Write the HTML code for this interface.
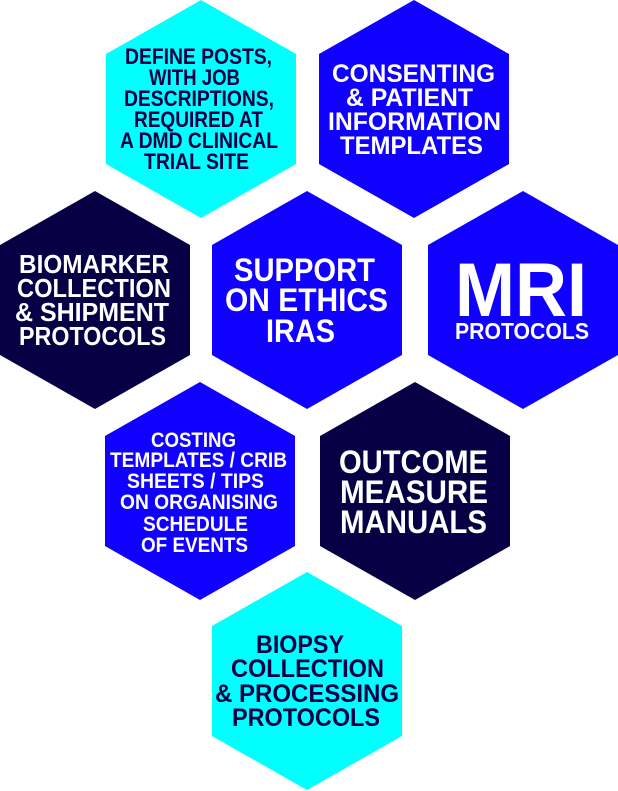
<!DOCTYPE html>
<html><head><meta charset="utf-8"><style>
html,body{margin:0;padding:0;background:#fff;}
svg{display:block;}
text{font-family:"Liberation Sans Narrow","Liberation Sans",sans-serif;font-weight:bold;}
</style></head><body>
<svg width="618" height="791" viewBox="0 0 618 791" xmlns="http://www.w3.org/2000/svg">
<defs>
<polygon id="hx" points="0,0 95,54 95,164 0,218 -95,164 -95,54"/>
</defs>
<use href="#hx" x="201" y="0" fill="#00ffff"/>
<use href="#hx" x="414" y="0" fill="#1000ff"/>
<use href="#hx" x="95" y="191" fill="#070044"/>
<use href="#hx" x="307" y="191" fill="#1000ff"/>
<use href="#hx" x="523" y="191" fill="#1000ff"/>
<use href="#hx" x="200" y="382" fill="#1000ff"/>
<use href="#hx" x="415" y="382" fill="#070044"/>
<use href="#hx" x="307" y="572" fill="#00ffff"/>

<g fill="#070044" font-size="22">
<text x="125" y="64" textLength="147" lengthAdjust="spacingAndGlyphs">DEFINE POSTS,</text>
<text x="149" y="85" textLength="91" lengthAdjust="spacingAndGlyphs">WITH JOB</text>
<text x="124" y="106" textLength="150" lengthAdjust="spacingAndGlyphs">DESCRIPTIONS,</text>
<text x="134" y="127" textLength="129" lengthAdjust="spacingAndGlyphs">REQUIRED AT</text>
<text x="120" y="148" textLength="158" lengthAdjust="spacingAndGlyphs">A DMD CLINICAL</text>
<text x="144" y="169" textLength="105" lengthAdjust="spacingAndGlyphs">TRIAL SITE</text>
</g>
<g fill="#fff" font-size="25">
<text x="332" y="82" textLength="163" lengthAdjust="spacingAndGlyphs">CONSENTING</text>
<text x="346" y="106" textLength="127" lengthAdjust="spacingAndGlyphs">&amp; PATIENT</text>
<text x="328" y="130" textLength="173" lengthAdjust="spacingAndGlyphs">INFORMATION</text>
<text x="340" y="154" textLength="143" lengthAdjust="spacingAndGlyphs">TEMPLATES</text>
</g>
<g fill="#fff" font-size="26">
<text x="19" y="273" textLength="150" lengthAdjust="spacingAndGlyphs">BIOMARKER</text>
<text x="17" y="297" textLength="154" lengthAdjust="spacingAndGlyphs">COLLECTION</text>
<text x="15" y="321" textLength="154" lengthAdjust="spacingAndGlyphs">&amp; SHIPMENT</text>
<text x="19" y="345" textLength="147" lengthAdjust="spacingAndGlyphs">PROTOCOLS</text>
</g>
<g fill="#fff" font-size="32">
<text x="234" y="281" textLength="141" lengthAdjust="spacingAndGlyphs">SUPPORT</text>
<text x="225" y="311" textLength="163" lengthAdjust="spacingAndGlyphs">ON ETHICS</text>
<text x="266" y="342" textLength="69" lengthAdjust="spacingAndGlyphs">IRAS</text>
</g>
<g fill="#fff">
<text x="455" y="316" font-size="76" textLength="132" lengthAdjust="spacingAndGlyphs">MRI</text>
<text x="455" y="339" font-size="23" textLength="134" lengthAdjust="spacingAndGlyphs">PROTOCOLS</text>
</g>
<g fill="#fff" font-size="21">
<text x="151" y="447" textLength="85" lengthAdjust="spacingAndGlyphs">COSTING</text>
<text x="110" y="467" textLength="177" lengthAdjust="spacingAndGlyphs">TEMPLATES / CRIB</text>
<text x="127" y="488" textLength="137" lengthAdjust="spacingAndGlyphs">SHEETS / TIPS</text>
<text x="120" y="509" textLength="158" lengthAdjust="spacingAndGlyphs">ON ORGANISING</text>
<text x="143" y="531" textLength="105" lengthAdjust="spacingAndGlyphs">SCHEDULE</text>
<text x="141" y="552" textLength="107" lengthAdjust="spacingAndGlyphs">OF EVENTS</text>
</g>
<g fill="#fff" font-size="32">
<text x="339" y="473" textLength="149" lengthAdjust="spacingAndGlyphs">OUTCOME</text>
<text x="340" y="503" textLength="148" lengthAdjust="spacingAndGlyphs">MEASURE</text>
<text x="340" y="533" textLength="147" lengthAdjust="spacingAndGlyphs">MANUALS</text>
</g>
<g fill="#070044" font-size="25">
<text x="256" y="653" textLength="88" lengthAdjust="spacingAndGlyphs">BIOPSY</text>
<text x="231" y="677" textLength="153" lengthAdjust="spacingAndGlyphs">COLLECTION</text>
<text x="215" y="702" textLength="184" lengthAdjust="spacingAndGlyphs">&amp; PROCESSING</text>
<text x="232" y="726" textLength="148" lengthAdjust="spacingAndGlyphs">PROTOCOLS</text>
</g>
</svg>
</body></html>
